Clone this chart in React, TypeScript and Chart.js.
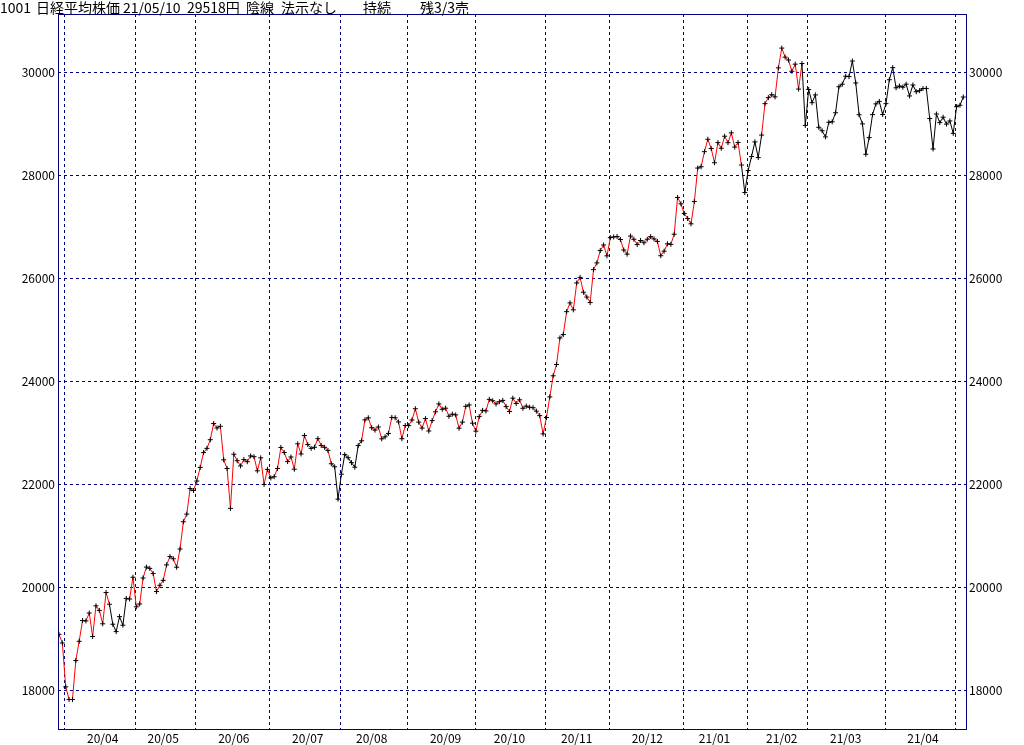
import React, { useEffect, useRef } from 'react';
import { Chart, registerables } from 'chart.js';

Chart.register(...registerables);

// ---- data ----
const MONTHS = ['20/03', '20/04', '20/05', '20/06', '20/07', '20/08', '20/09', '20/10', '20/11', '20/12', '21/01', '21/02', '21/03', '21/04', '21/05'];

const DAYS_2003 = [30, 31];
const DAYS_2004 = [1, 2, 3, 6, 7, 8, 9, 10, 13, 14, 15, 16, 17, 20, 21, 22, 23, 24, 27, 28, 30];
const DAYS_2005 = [1, 7, 8, 11, 12, 13, 14, 15, 18, 19, 20, 21, 22, 25, 26, 27, 28, 29];
const DAYS_2006 = [1, 2, 3, 4, 5, 8, 9, 10, 11, 12, 15, 16, 17, 18, 19, 22, 23, 24, 25, 26, 29, 30];
const DAYS_2007 = [1, 2, 3, 6, 7, 8, 9, 10, 13, 14, 15, 16, 17, 20, 21, 22, 27, 28, 29, 30, 31];
const DAYS_2008 = [3, 4, 5, 6, 7, 11, 12, 13, 14, 17, 18, 19, 20, 21, 24, 25, 26, 27, 28, 31];
const DAYS_2009 = [1, 2, 3, 4, 7, 8, 9, 10, 11, 14, 15, 16, 17, 18, 23, 24, 25, 28, 29, 30];
const DAYS_2010 = [2, 5, 6, 7, 8, 9, 12, 13, 14, 15, 16, 19, 20, 21, 22, 23, 26, 27, 28, 29, 30];
const DAYS_2011 = [2, 4, 5, 6, 9, 10, 11, 12, 13, 16, 17, 18, 19, 20, 24, 25, 26, 27, 30];
const DAYS_2012 = [1, 2, 3, 4, 7, 8, 9, 10, 11, 14, 15, 16, 17, 18, 21, 22, 23, 24, 25, 28, 29, 30];
const DAYS_2101 = [4, 5, 6, 7, 8, 12, 13, 14, 15, 18, 19, 20, 21, 22, 25, 26, 27, 28, 29];
const DAYS_2102 = [1, 2, 3, 4, 5, 8, 9, 10, 12, 15, 16, 17, 18, 19, 22, 24, 25, 26];
const DAYS_2103 = [1, 2, 3, 4, 5, 8, 9, 10, 11, 12, 15, 16, 17, 18, 19, 22, 23, 24, 25, 26, 29, 30, 31];
const DAYS_2104 = [1, 2, 5, 6, 7, 8, 9, 12, 13, 14, 15, 16, 19, 20, 21, 22, 23, 26, 27, 28, 30];
const DAYS_2105 = [6, 7, 10];

const CLOSE_2003 = [19085, 18917];
const CLOSE_2004 = [18065, 17819, 17820, 18576, 18950, 19353, 19346, 19499, 19043, 19639, 19550, 19290, 19897, 19669, 19281, 19138, 19429, 19262, 19783, 19771, 20194];
const CLOSE_2005 = [19619, 19675, 20179, 20391, 20366, 20267, 19915, 20037, 20134, 20433, 20595, 20552, 20388, 20742, 21271, 21419, 21916, 21878];
const CLOSE_2006 = [22062, 22326, 22614, 22696, 22864, 23178, 23091, 23125, 22473, 22305, 21531, 22582, 22456, 22355, 22479, 22437, 22549, 22534, 22260, 22512, 21995, 22288];
const CLOSE_2007 = [22122, 22146, 22306, 22714, 22615, 22439, 22529, 22291, 22785, 22587, 22946, 22770, 22696, 22717, 22884, 22752, 22716, 22657, 22397, 22339, 21710];
const CLOSE_2008 = [22195, 22574, 22515, 22418, 22330, 22750, 22844, 23250, 23289, 23097, 23051, 23111, 22881, 22920, 22986, 23297, 23291, 23209, 22883, 23140];
const CLOSE_2009 = [23138, 23247, 23466, 23205, 23090, 23274, 23033, 23235, 23406, 23559, 23455, 23476, 23319, 23360, 23346, 23088, 23205, 23512, 23539, 23185];
const CLOSE_2010 = [23030, 23312, 23434, 23423, 23647, 23620, 23559, 23602, 23627, 23507, 23411, 23671, 23567, 23639, 23474, 23517, 23494, 23486, 23419, 23332, 22977];
const CLOSE_2011 = [23295, 23695, 24105, 24325, 24840, 24906, 25350, 25521, 25386, 25907, 26015, 25728, 25634, 25527, 26166, 26297, 26537, 26645, 26434];
const CLOSE_2012 = [26788, 26801, 26809, 26751, 26547, 26467, 26818, 26756, 26653, 26732, 26688, 26757, 26807, 26763, 26714, 26436, 26525, 26668, 26657, 26854, 27568, 27444];
const CLOSE_2101 = [27258, 27159, 27056, 27490, 28139, 28164, 28457, 28698, 28519, 28242, 28633, 28523, 28757, 28631, 28822, 28546, 28635, 28197, 27663];
const CLOSE_2102 = [28091, 28362, 28647, 28342, 28779, 29389, 29506, 29563, 29520, 30084, 30468, 30292, 30236, 30018, 30156, 29672, 30168, 28966];
const CLOSE_2103 = [29664, 29408, 29559, 28930, 28864, 28743, 29028, 29037, 29212, 29718, 29767, 29921, 29914, 30217, 29792, 29174, 28996, 28406, 28730, 29177, 29385, 29433, 29179];
const CLOSE_2104 = [29389, 29854, 30089, 29697, 29731, 29709, 29768, 29539, 29752, 29621, 29643, 29683, 29685, 29100, 28509, 29188, 29021, 29126, 28992, 29054, 28813];
const CLOSE_2105 = [29331, 29358, 29518];

const TRADING_DAYS = [DAYS_2003, DAYS_2004, DAYS_2005, DAYS_2006, DAYS_2007, DAYS_2008, DAYS_2009, DAYS_2010, DAYS_2011, DAYS_2012, DAYS_2101, DAYS_2102, DAYS_2103, DAYS_2104, DAYS_2105];
const CLOSES = [CLOSE_2003, CLOSE_2004, CLOSE_2005, CLOSE_2006, CLOSE_2007, CLOSE_2008, CLOSE_2009, CLOSE_2010, CLOSE_2011, CLOSE_2012, CLOSE_2101, CLOSE_2102, CLOSE_2103, CLOSE_2104, CLOSE_2105];

// position signal (red = buy, black = sell)
const SIGNAL_DATES = ['20/03/30', '20/04/21', '20/04/28', '20/07/30', '20/08/13', '21/01/29', '21/02/08', '21/02/26'];
const SIGNAL_SIDES = ['buy', 'sell', 'buy', 'sell', 'buy', 'sell', 'buy', 'sell'];

const Y_TICKS = [18000, 20000, 22000, 24000, 26000, 28000, 30000];
const Y_MIN = 17247;
const Y_MAX = 31130;

const TITLE_PARTS = ['1001', '日経平均株価', '21/05/10', '29518円', '陰線', '法示なし', '持続', '残3/3売'];
const TITLE_X = [0, 36, 123, 187, 246, 281, 363, 420];

// ---- derived ----
const NAVY = '#000080';
const FONT = "'Noto Sans CJK JP', 'Noto Sans', sans-serif";

const dates: string[] = [];
const closes: number[] = [];
const monthStarts: number[] = [];
const monthLabels: { idx: number; label: string }[] = [];
MONTHS.forEach((m, mi) => {
  monthStarts.push(dates.length);
  let labelled = false;
  TRADING_DAYS[mi].forEach((d, di) => {
    if (mi > 0 && !labelled && d >= 16) {
      monthLabels.push({ idx: dates.length, label: m });
      labelled = true;
    }
    dates.push(m + '/' + String(d).padStart(2, '0'));
    closes.push(CLOSES[mi][di]);
  });
});
const sides = dates.map((dt) => {
  let s = SIGNAL_SIDES[0];
  SIGNAL_DATES.forEach((sd, i) => {
    if (sd <= dt) s = SIGNAL_SIDES[i];
  });
  return s;
});
const N = closes.length;

const xTicks = [
  ...monthStarts.slice(1).map((i) => ({ value: i - 0.25, isGrid: true, text: '' })),
  ...monthLabels.map((l) => ({ value: l.idx, isGrid: false, text: l.label })),
].sort((a, b) => a.value - b.value);

const titlePlugin = {
  id: 'titleText',
  afterDraw(chart: any) {
    const ctx = chart.ctx;
    ctx.save();
    ctx.font = '14px ' + FONT;
    ctx.fillStyle = '#000';
    ctx.textBaseline = 'alphabetic';
    ctx.textAlign = 'left';
    TITLE_PARTS.forEach((t, i) => ctx.fillText(t, TITLE_X[i], 12.5));
    ctx.restore();
  },
};

const framePlugin = {
  id: 'frame',
  beforeDatasetsDraw(chart: any) {
    const { ctx, chartArea } = chart;
    ctx.save();
    ctx.setLineDash([]);
    ctx.strokeStyle = NAVY;
    ctx.lineWidth = 1;
    const l = Math.round(chartArea.left) + 0.5;
    const r = Math.round(chartArea.right) + 0.5;
    const t = Math.round(chartArea.top) + 0.5;
    const b = Math.round(chartArea.bottom) + 0.5;
    ctx.strokeRect(l, t, r - l, b - t);
    ctx.restore();
  },
};

export default function App() {
  const ref = useRef<HTMLCanvasElement | null>(null);
  useEffect(() => {
    if (!ref.current) return;
    const chart = new Chart(ref.current, {
      type: 'line',
      data: {
        datasets: [
          {
            data: closes.map((c, i) => ({ x: i, y: c })),
            borderWidth: 1,
            borderColor: '#000',
            tension: 0,
            pointStyle: 'cross',
            pointRadius: 2.5,
            pointBorderWidth: 1,
            pointBorderColor: '#000',
            pointBackgroundColor: '#000',
            segment: {
              borderColor: (ctx: any) => (sides[ctx.p1DataIndex] === 'buy' ? '#ff0000' : '#000000'),
            },
          } as any,
        ],
      },
      options: {
        responsive: false,
        animation: false,
        events: [],
        layout: { padding: { top: 14, left: 0, right: 0, bottom: 0 } },
        plugins: { legend: { display: false }, tooltip: { enabled: false }, title: { display: false } },
        scales: {
          x: {
            type: 'linear',
            position: 'bottom',
            min: -0.3,
            max: N - 0.2,
            afterBuildTicks: (scale: any) => {
              scale.ticks = xTicks.map((t) => ({ ...t }));
            },
            afterFit: (scale: any) => {
              scale.height = 16;
            },
            ticks: {
              autoSkip: false,
              maxRotation: 0,
              minRotation: 0,
              padding: 2,
              color: '#000',
              font: { family: FONT, size: 12 },
              callback: (_v: any, index: number) => xTicks[index].text,
            },
            grid: {
              color: (ctx: any) => (ctx.tick && ctx.tick.isGrid ? NAVY : 'rgba(0,0,0,0)'),
              lineWidth: 1,
              drawTicks: false,
            },
            border: { display: false, dash: [3, 3] },
          },
          y: {
            type: 'linear',
            position: 'left',
            min: Y_MIN,
            max: Y_MAX,
            afterBuildTicks: (scale: any) => {
              scale.ticks = Y_TICKS.map((v) => ({ value: v }));
            },
            afterFit: (scale: any) => {
              scale.width = 58;
            },
            ticks: {
              padding: 3,
              color: '#000',
              font: { family: FONT, size: 12 },
              callback: (v: any) => String(v),
            },
            grid: { color: NAVY, lineWidth: 1, drawTicks: false },
            border: { display: false, dash: [3, 3] },
          },
          y2: {
            type: 'linear',
            position: 'right',
            min: Y_MIN,
            max: Y_MAX,
            afterBuildTicks: (scale: any) => {
              scale.ticks = Y_TICKS.map((v) => ({ value: v }));
            },
            afterFit: (scale: any) => {
              scale.width = 58;
            },
            ticks: {
              padding: 3,
              color: '#000',
              font: { family: FONT, size: 12 },
              callback: (v: any) => String(v),
            },
            grid: { display: false, drawTicks: false },
            border: { display: false },
          },
        },
      },
      plugins: [framePlugin, titlePlugin],
    } as any);
    return () => chart.destroy();
  }, []);

  return (
    <div style={{ position: 'absolute', left: 0, top: 0, width: 1024, height: 745, background: '#fff' }}>
      <canvas ref={ref} width={1024} height={745} style={{ display: 'block' }} />
    </div>
  );
}
